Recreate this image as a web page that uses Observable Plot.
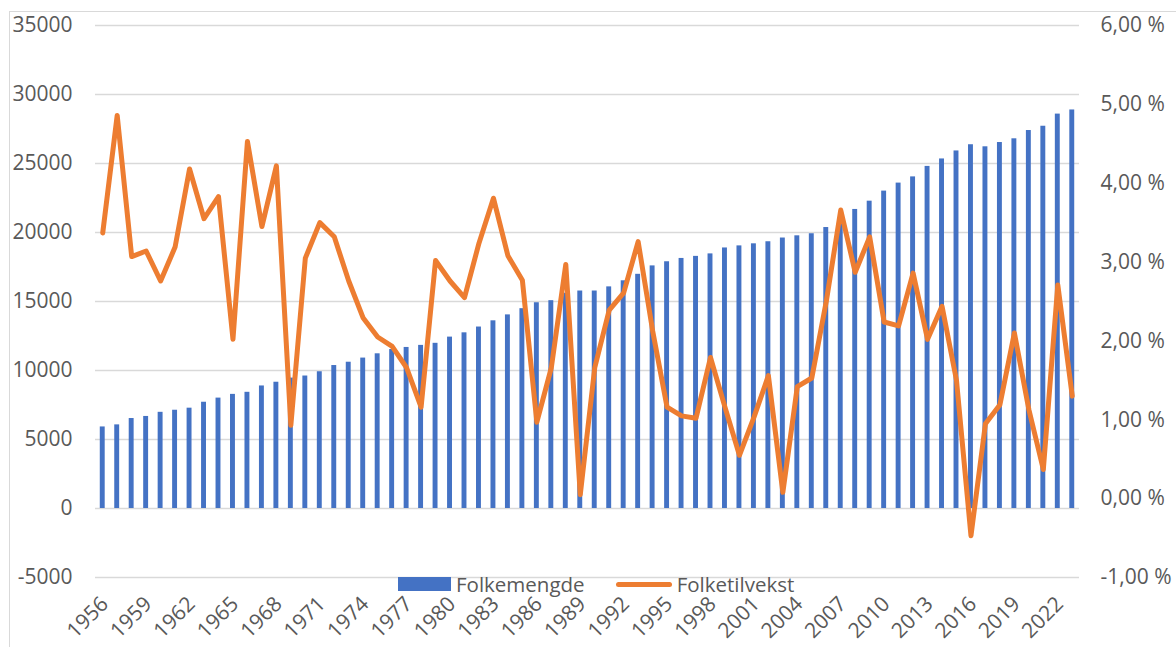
<!DOCTYPE html>
<html>
<head>
<meta charset="utf-8">
<script src="https://cdn.jsdelivr.net/npm/d3@7"></script>
<script src="https://cdn.jsdelivr.net/npm/@observablehq/plot@0.6"></script>
<style>
  html, body { margin: 0; padding: 0; background: #fff; }
  #wrap { position: relative; width: 1176px; height: 647px; overflow: hidden; font-family: "Open Sans", sans-serif; }
  #border { position: absolute; left: 9px; top: 11px; width: 1200px; height: 700px; border-left: 1px solid #d9d9d9; border-top: 1px solid #d9d9d9; }
  #legend { position: absolute; left: 398px; top: 572px; display: flex; align-items: center; color: #595959; font-size: 20.5px; line-height: 24px; }
  .sw-bar { width: 53px; height: 14px; background: #4472C4; margin-right: 5px; }
  .sw-line { width: 56px; height: 5px; background: #ED7D31; border-radius: 3px; margin-right: 5px; margin-left: 31px; }
</style>
</head>
<body>
<div id="wrap">
  <div id="border"></div>
  <div id="chart"></div>
  <div id="legend">
    <div class="sw-bar"></div><span>Folkemengde</span>
    <div class="sw-line"></div><span>Folketilvekst</span>
  </div>
</div>
<script>
const years = [1956,1957,1958,1959,1960,1961,1962,1963,1964,1965,
  1966,1967,1968,1969,1970,1971,1972,1973,1974,1975,
  1976,1977,1978,1979,1980,1981,1982,1983,1984,1985,
  1986,1987,1988,1989,1990,1991,1992,1993,1994,1995,
  1996,1997,1998,1999,2000,2001,2002,2003,2004,2005,
  2006,2007,2008,2009,2010,2011,2012,2013,2014,2015,
  2016,2017,2018,2019,2020,2021,2022,2023];

const folkemengde = [5910,6060,6520,6670,6970,7120,7270,7700,8000,8270,
  8420,8880,9150,9450,9600,9910,10360,10600,10900,11210,
  11520,11670,11820,11970,12420,12730,13150,13600,14030,14480,
  14910,15060,15600,15760,15760,16060,16500,16970,17580,17880,
  18120,18270,18450,18880,19030,19180,19330,19600,19760,19910,
  20360,20900,21670,22270,23000,23580,24030,24790,25330,25910,
  26360,26210,26520,26790,27390,27700,28580,28880];

const folketilvekst = [3.37,4.86,3.07,3.14,2.76,3.19,4.18,3.55,3.83,2.02,
  4.53,3.45,4.22,0.93,3.05,3.50,3.32,2.76,2.29,2.05,
  1.93,1.66,1.16,3.02,2.76,2.55,3.24,3.81,3.08,2.77,
  0.97,1.66,2.97,0.05,1.66,2.39,2.61,3.26,2.13,1.16,
  1.05,1.02,1.79,1.16,0.55,1.03,1.56,0.08,1.42,1.53,
  2.50,3.66,2.87,3.32,2.24,2.19,2.86,2.02,2.44,1.50,
  -0.47,0.95,1.19,2.10,1.13,0.37,2.71,1.30];

const leftTicks = [-5000,0,5000,10000,15000,20000,25000,30000,35000];
const pctTicks = [-1,0,1,2,3,4,5,6];
const pctLabels = ["-1,00 %","0,00 %","1,00 %","2,00 %","3,00 %","4,00 %","5,00 %","6,00 %"];
const xTickYears = [1956,1959,1962,1965,1968,1971,1974,1977,1980,1983,1986,1989,1992,1995,1998,2001,2004,2007,2010,2013,2016,2019,2022];

// map percentage (right axis, -1..6) onto left axis units (-5000..35000)
const toLeft = p => -5000 + (p + 1) / 7 * 40000;

const data = years.map((y, i) => ({year: y, pop: folkemengde[i], pct: folketilvekst[i]}));

const chart = Plot.plot({
  width: 1176,
  height: 647,
  marginTop: 25,
  marginBottom: 70,
  marginLeft: 95,
  marginRight: 97,
  style: {fontFamily: "Open Sans, sans-serif", fontSize: "21px", color: "#595959", background: "transparent"},
  x: {type: "band", domain: years, paddingInner: 0.66, paddingOuter: 0.33, align: 0.5},
  y: {domain: [-5000, 35000]},
  marks: [
    Plot.gridY(leftTicks, {stroke: "#d9d9d9", strokeOpacity: 1, strokeWidth: 1.5}),
    Plot.barY(data, {x: "year", y: "pop", fill: "#4472C4"}),
    Plot.line(data, {x: "year", y: d => toLeft(d.pct), stroke: "#ED7D31", strokeWidth: 5, strokeLinejoin: "round", strokeLinecap: "round"}),
    Plot.axisY(leftTicks, {anchor: "left", tickSize: 0, tickPadding: 23, tickFormat: d => String(d), label: null, fill: "#595959"}),
    Plot.axisY(pctTicks.map(toLeft), {anchor: "right", tickSize: 0, tickPadding: 21, tickFormat: (d, i) => pctLabels[i], label: null, fill: "#595959"}),
    Plot.axisX(xTickYears, {anchor: "bottom", tickSize: 0, tickPadding: 23, tickRotate: -45, tickFormat: d => String(d), label: null, fill: "#595959", dx: 2})
  ]
});
document.getElementById("chart").appendChild(chart);
</script>
</body>
</html>
